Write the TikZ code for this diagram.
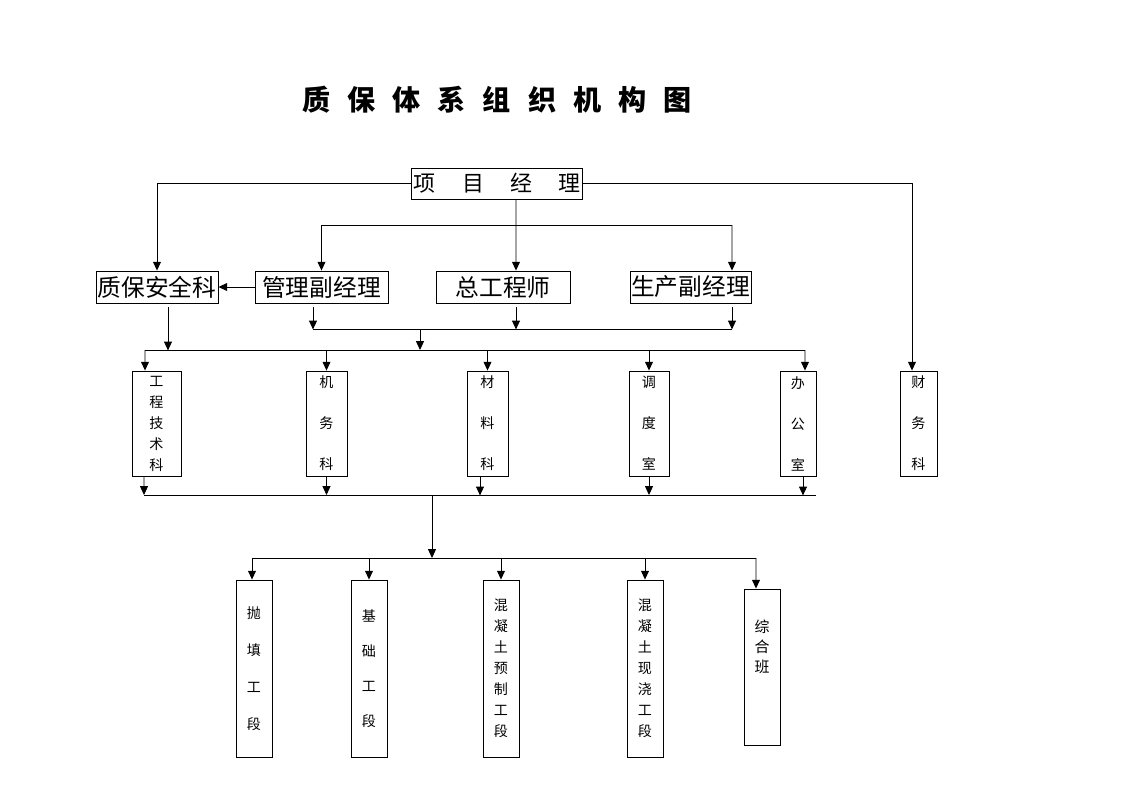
\documentclass[tikz,border=0pt]{standalone}
\usepackage{fontspec}
\setmainfont{Noto Sans CJK SC}
\newfontfamily\bossfont{Noto Sans CJK SC}[WordSpace=5.3]
\newcommand\widespace{\spaceskip 0.34cm\relax}
\usetikzlibrary{arrows.meta}
\tikzset{
	arr/.style={-{Triangle[width=4.5pt,length=5pt]}},
	headbox/.style={draw, inner sep=0pt, minimum height=0.64cm, font=\fontsize{13.5}{16}\selectfont},
	deptbox/.style={draw, inner sep=0pt, minimum height=2.1cm, align=center, font=\fontsize{8}{11.95}\selectfont},
	teambox/.style={draw, inner sep=0pt, minimum width=0.72cm, minimum height=3.54cm, align=center, font=\fontsize{8}{11.95}\selectfont}
}

\begin{document}
\begin{tikzpicture}[x=0.02cm, y=-0.02cm, line width=0.5pt]
	%%%%% START %%%%%
	\useasboundingbox (0,0) rectangle (1123,794);
	
	\node[font={\bfseries\fontsize{16}{18}\selectfont\widespace}] (title) at (497,100) {质 保 体 系 组 织 机 构 图};
	
	\node[draw, inner sep=1.5pt, minimum width=3.4cm, minimum height=0.62cm, font=\bossfont\fontsize{12.5}{14}\selectfont] (pm) at (497,183.5) {项 目 经 理};
	
	\node[headbox, minimum width=2.44cm] (qa) at (157,287) {质保安全科};
	\node[headbox, minimum width=2.66cm] (mgr) at (321.5,287) {管理副经理};
	\node[headbox, minimum width=2.68cm] (chief) at (503,287) {总工程师};
	\node[headbox, minimum width=2.42cm] (prod) at (690.5,287) {生产副经理};
	
	\node[deptbox, minimum width=0.98cm] (eng) at (156.5,423.5) {工\\程\\技\\术\\科};
	\node[deptbox, minimum width=0.82cm] (mech) at (326.5,423.5) {机\\[11.4pt]务\\[11.4pt]科};
	\node[deptbox, minimum width=0.82cm] (mat) at (487.5,423.5) {材\\[11.4pt]料\\[11.4pt]科};
	\node[deptbox, minimum width=0.8cm] (disp) at (649,423.5) {调\\[11.4pt]度\\[11.4pt]室};
	\node[deptbox, minimum width=0.72cm] (off) at (798,423.5) {办\\[11.4pt]公\\[11.4pt]室};
	\node[deptbox, minimum width=0.74cm] (fin) at (918.5,423.5) {财\\[11.4pt]务\\[11.4pt]科};
	
	\node[teambox] (pt) at (254,668.5) {抛\\[9pt]填\\[9pt]工\\[9pt]段};
	\node[teambox] (jc) at (369,668.5) {基\\[8pt]础\\[8pt]工\\[8pt]段};
	\node[teambox] (yz) at (501,668.5) {混\\凝\\土\\预\\制\\工\\段};
	\node[teambox] (xj) at (645,668.5) {混\\凝\\土\\现\\浇\\工\\段};
	\node[teambox, minimum height=3.12cm] (zh) at (762,667) {};
	\node[align=center, font=\fontsize{8.5}{11.4}\selectfont] (zhtext) at (762,647) {综\\合\\班};
	
	% project manager
	\draw[arr] (pm.west) -| (qa.north);
	\draw[arr] (pm.east) -| ([xshift=-0.13cm]fin.north);
	\draw[arr] ([xshift=0.38cm]pm.south) -- ([xshift=0.26cm]chief.north);
	\coordinate (b1) at (732,225);
	\draw[arr] (b1) -| (mgr.north);
	\draw[arr] (b1) -- ([xshift=0.83cm]prod.north);
	\draw[arr] (mgr.west) -- (qa.east);
	
	% second row down
	\coordinate (b2l) at (313,329);
	\coordinate (b2r) at (732,329);
	\coordinate (b2m) at (420,329);
	\coordinate (b3) at (145,350);
	\coordinate (b3r) at (805,350);
	\draw[arr, shorten <=0.08cm] ([xshift=0.22cm]qa.south) -- ++(0,47);
	\draw[arr, shorten <=0.08cm] ([xshift=-0.17cm]mgr.south) -- ++(0,26);
	\draw[arr, shorten <=0.08cm] ([xshift=0.26cm]chief.south) -- ++(0,26);
	\draw[arr, shorten <=0.08cm] ([xshift=0.83cm]prod.south) -- ++(0,26);
	\draw (b2l) -- (b2r);
	\draw[arr] (b2m) -- (b2m |- b3);
	\draw (b3) -- (b3r);
	
	% third row
	\draw[arr] (b3) -- ([xshift=-0.23cm]eng.north);
	\draw[arr] (mech.north |- b3) -- (mech.north);
	\draw[arr] (mat.north |- b3) -- (mat.north);
	\draw[arr] (disp.north |- b3) -- (disp.north);
	\draw[arr] (b3r) -- ([xshift=0.14cm]off.north);
	
	\coordinate (b4l) at (144,495);
	\coordinate (b4r) at (816,495);
	\coordinate (b4m) at (432,495);
	\draw[arr] ([xshift=-0.25cm]eng.south) -- (b4l);
	\draw[arr] (mech.south) -- (mech.south |- b4l);
	\draw[arr] ([xshift=-0.15cm]mat.south) -- ++(0,19);
	\draw[arr] (disp.south) -- (disp.south |- b4l);
	\draw[arr] ([xshift=0.1cm]off.south) -- ++(0,19);
	\draw (b4l) -- (b4r);
	
	% work sections
	\coordinate (b5l) at (252,558);
	\coordinate (b5r) at (756,558);
	\draw[arr] (b4m) -- (b4m |- b5l);
	\draw[arr] (b5r) -| ([xshift=-0.04cm]pt.north);
	\draw[arr] (jc.north |- b5l) -- (jc.north);
	\draw[arr] (yz.north |- b5l) -- (yz.north);
	\draw[arr] (xj.north |- b5l) -- (xj.north);
	\draw[arr] (b5r) -- ([xshift=-0.12cm]zh.north);
	
	%%%%% END %%%%%
\end{tikzpicture}
\end{document}
